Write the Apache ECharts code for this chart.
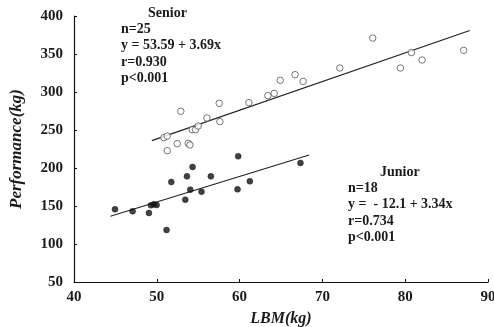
<!DOCTYPE html>
<html><head><meta charset="utf-8">
<script src="https://cdn.jsdelivr.net/npm/echarts@6/dist/echarts.min.js"></script>
<style>html,body{margin:0;padding:0;background:#fff}#c{width:494px;height:327px}</style>
</head><body><div id="c"></div>
<script>
const xTicks = [40, 50, 60, 70, 80, 90];
const yTicks = [50, 100, 150, 200, 250, 300, 350, 400];
const seniorPoints = [
  [50.86, 239.9], [51.26, 242], [51.26, 222.8], [52.47, 232], [52.9, 274.6],
  [53.8, 232.5], [54.0, 230.3], [54.28, 250.4], [54.68, 250.4], [55.0, 255.3],
  [56.05, 265.8], [57.54, 285.1], [57.62, 261], [61.12, 286], [63.41, 295.2],
  [64.18, 298.2], [64.9, 315.4], [66.7, 322.8], [67.67, 314], [72.1, 331.6],
  [76.08, 371], [79.42, 331.6], [80.75, 351.8], [82.04, 342.1], [87.06, 354.8]
];
const juniorPoints = [
  [44.95, 145.6], [47.08, 143], [49.05, 140.8], [49.3, 150.9], [49.65, 152.2],
  [49.98, 151.3], [51.18, 118.4], [51.75, 181.6], [53.44, 158.3], [53.64, 189],
  [54.04, 171.5], [54.32, 201.3], [55.4, 168.9], [56.53, 189], [59.75, 171.9],
  [59.83, 215.4], [61.24, 182.5], [67.35, 206.6]
];
const seniorLine = [[49.4, 236], [87.8, 381]];
const juniorLine = [[44.4, 136.4], [68.4, 217]];
const seniorText = ['Senior', 'n=25', 'y = 53.59 + 3.69x', 'r=0.930', 'p<0.001'];
const juniorText = ['Junior', 'n=18', 'y =  - 12.1 + 3.34x', 'r=0.734', 'p<0.001'];

const FONT = '"Liberation Serif", "DejaVu Serif", serif';
const TXT = '#1e1a18';
const chart = echarts.init(document.getElementById('c'));

function textBlock(lines, titleLeft, leftX, topY) {
  const out = [];
  out.push({type: 'text', left: titleLeft, top: topY, style: {text: lines[0], font: 'bold 14px ' + FONT, fill: TXT}});
  for (let i = 1; i < lines.length; i++) {
    out.push({type: 'text', left: leftX, top: topY + 16.4 * i, style: {text: lines[i], font: 'bold 14px ' + FONT, fill: TXT}});
  }
  return out;
}

chart.setOption({
  animation: false,
  backgroundColor: '#fff',
  grid: {left: 74, right: 6, top: 16, bottom: 45, containLabel: false, outerBoundsMode: 'none'},
  xAxis: {
    type: 'value', min: xTicks[0], max: xTicks[xTicks.length - 1], interval: 10,
    name: 'LBM(kg)', nameLocation: 'middle', nameGap: 29,
    nameTextStyle: {fontFamily: FONT, fontWeight: 'bold', fontStyle: 'italic', fontSize: 16, color: TXT},
    axisLine: {lineStyle: {color: '#111', width: 1.2}},
    axisTick: {inside: true, length: 3, lineStyle: {color: '#111'}},
    axisLabel: {fontFamily: FONT, fontWeight: 'bold', fontSize: 15, color: TXT, margin: 8},
    splitLine: {show: false}
  },
  yAxis: {
    type: 'value', min: yTicks[0], max: yTicks[yTicks.length - 1], interval: 50,
    name: 'Performance(kg)', nameLocation: 'middle', nameGap: 49,
    nameTextStyle: {fontFamily: FONT, fontWeight: 'bold', fontStyle: 'italic', fontSize: 17, color: TXT},
    axisLine: {show: true, lineStyle: {color: '#111', width: 1.2}},
    axisTick: {show: true, inside: true, length: 3, lineStyle: {color: '#111'}},
    axisLabel: {fontFamily: FONT, fontWeight: 'bold', fontSize: 15, color: TXT, margin: 11},
    splitLine: {show: false}
  },
  series: [
    {type: 'scatter', data: seniorPoints, symbol: 'circle', symbolSize: 6.5,
     itemStyle: {color: '#fff', borderColor: '#555', borderWidth: 1}, z: 3},
    {type: 'scatter', data: juniorPoints, symbol: 'circle', symbolSize: 6,
     itemStyle: {color: '#111', borderColor: '#111', borderWidth: 0.5}, z: 3},
    {type: 'line', data: seniorLine, symbol: 'none', lineStyle: {color: '#222', width: 1.1}, z: 2},
    {type: 'line', data: juniorLine, symbol: 'none', lineStyle: {color: '#222', width: 1.1}, z: 2}
  ],
  graphic: [].concat(
    textBlock(seniorText, 148, 121, 6),
    textBlock(juniorText, 380, 348, 165)
  )
});
</script></body></html>
